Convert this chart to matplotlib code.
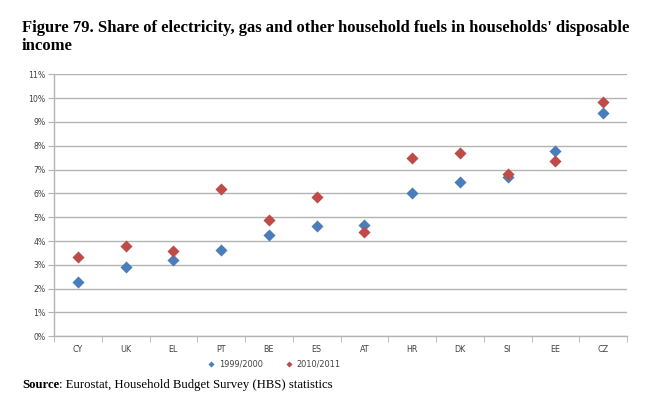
import matplotlib as mpl

mpl.use("Agg")

import matplotlib.pyplot as plt

COUNTRIES = ["CY", "UK", "EL", "PT", "BE", "ES", "AT", "HR", "DK", "SI", "EE", "CZ"]
SHARE_1999 = [2.30, 2.90, 3.21, 3.63, 4.24, 4.61, 4.68, 6.01, 6.48, 6.68, 7.79, 9.37]
SHARE_2010 = [3.35, 3.78, 3.57, 6.18, 4.90, 5.85, 4.38, 7.48, 7.69, 6.82, 7.35, 9.84]
SERIES_LABELS = ["1999/2000", "2010/2011"]

BLUE = "#4A7EBB"
RED = "#BE4B48"
GRID = "#B3B3B3"
TEXT = "#404040"

fig = plt.figure(figsize=(6.6, 4.04), dpi=100)
ax = fig.add_axes([54 / 660, 1 - 336.3 / 404, 573 / 660, 262 / 404])

x = list(range(len(COUNTRIES)))
ax.scatter(x, SHARE_1999, marker="D", s=38, color=BLUE, linewidths=0, zorder=3, label=SERIES_LABELS[0])
ax.scatter(x, SHARE_2010, marker="D", s=38, color=RED, linewidths=0, zorder=3, label=SERIES_LABELS[1])

ax.set_xlim(-0.5, len(COUNTRIES) - 0.5)
ax.set_ylim(0, 11)
ax.set_yticks(range(0, 12))
ax.set_yticklabels([f"{v}%" for v in range(0, 12)])
ax.set_xticks(x)
ax.set_xticklabels(COUNTRIES)
ax.set_xticks([i - 0.5 for i in range(len(COUNTRIES) + 1)], minor=True)

ax.grid(axis="y", color=GRID, lw=1.0, zorder=0)
for side in ["top", "right"]:
    ax.spines[side].set_visible(False)
for side in ["left", "bottom"]:
    ax.spines[side].set_color(GRID)
    ax.spines[side].set_linewidth(1.0)

ax.tick_params(axis="y", length=4, color=GRID, labelsize=5.6, labelcolor=TEXT, pad=2)
ax.tick_params(axis="x", which="major", length=0, labelsize=5.8, labelcolor=TEXT, pad=6)
ax.tick_params(axis="x", which="minor", length=4, color=GRID)

fig.legend(
    loc="center",
    bbox_to_anchor=(272 / 660, 1 - 364 / 404),
    ncol=2,
    frameon=False,
    fontsize=5.9,
    markerscale=0.5,
    handletextpad=0.0,
    columnspacing=2.1,
    labelcolor=TEXT,
)

serif = "Liberation Serif"
fig.text(
    22 / 660,
    1 - 20 / 404,
    "Figure 79. Share of electricity, gas and other household fuels in households' disposable\nincome",
    ha="left",
    va="top",
    fontsize=12,
    fontweight="bold",
    family=serif,
    linespacing=1.2,
)

src = fig.text(22 / 660, 1 - 385 / 404, "Source", ha="left", va="center", fontsize=9.2, fontweight="bold", family=serif)
ax.annotate(
    ": Eurostat, Household Budget Survey (HBS) statistics",
    xy=(1, 0.5),
    xycoords=src,
    ha="left",
    va="center",
    fontsize=9.2,
    family=serif,
    annotation_clip=False,
)

fig.savefig("out.png", dpi=100)
